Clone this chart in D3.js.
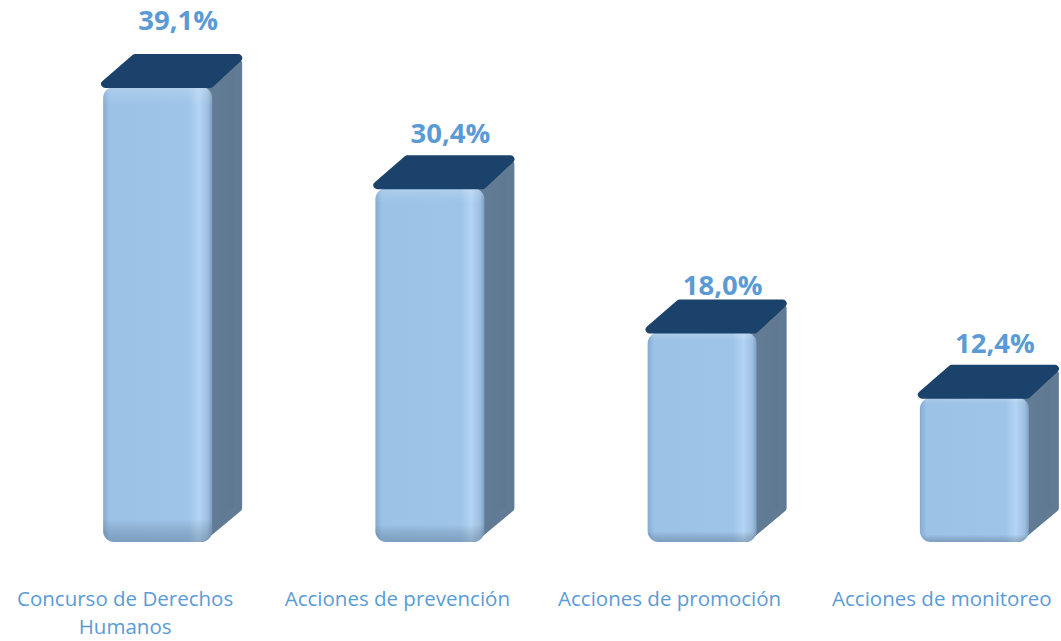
<!DOCTYPE html>
<html>
<head>
<meta charset="utf-8">
<script src="https://d3js.org/d3.v7.min.js"></script>
<style>
  body { margin: 0; background: #fff; }
  svg { display: block; }
</style>
</head>
<body>
<script>
// data
var categories = ["Concurso de Derechos Humanos", "Acciones de prevención", "Acciones de promoción", "Acciones de monitoreo"]
var values = [39.1, 30.4, 18.0, 12.4]
var valueLabels = ["39,1%", "30,4%", "18,0%", "12,4%"]

var width = 1061, height = 641
var baseY = 542
var depthX = 30, depthY = 28
var faceW = 109

var svg = d3.select("body").append("svg")
  .attr("width", width).attr("height", height)

var x = d3.scaleBand().domain(categories).range([-11, 1078]).padding(0)
var y = d3.scaleLinear().domain([0, 39.1]).range([baseY, 87])

var defs = svg.append("defs")
var front = defs.append("linearGradient").attr("id", "front").attr("x1", 0).attr("x2", 1).attr("y1", 0).attr("y2", 0)
front.append("stop").attr("offset", "0%").attr("stop-color", "#86abd3")
front.append("stop").attr("offset", "6%").attr("stop-color", "#9cc2e6")
front.append("stop").attr("offset", "78%").attr("stop-color", "#9ec4e8")
front.append("stop").attr("offset", "88%").attr("stop-color", "#b3d4f3")
front.append("stop").attr("offset", "96%").attr("stop-color", "#9dbfe0")
front.append("stop").attr("offset", "100%").attr("stop-color", "#7f9fc1")

var shade = defs.append("linearGradient").attr("id", "shade").attr("x1", 0).attr("x2", 0).attr("y1", 0).attr("y2", 1)
shade.append("stop").attr("offset", "0%").attr("stop-color", "#ffffff").attr("stop-opacity", 0.18)
shade.append("stop").attr("offset", "4%").attr("stop-color", "#ffffff").attr("stop-opacity", 0)
shade.append("stop").attr("offset", "95%").attr("stop-color", "#000000").attr("stop-opacity", 0)
shade.append("stop").attr("offset", "100%").attr("stop-color", "#1b3550").attr("stop-opacity", 0.25)

var side = defs.append("linearGradient").attr("id", "side").attr("x1", 0).attr("x2", 1).attr("y1", 0).attr("y2", 0)
side.append("stop").attr("offset", "0%").attr("stop-color", "#6f89a5")
side.append("stop").attr("offset", "30%").attr("stop-color", "#637c96")
side.append("stop").attr("offset", "100%").attr("stop-color", "#5f7791")

var labelOffset = [0, 45, 38, 45]

var bars = svg.selectAll("g.bar").data(categories).enter().append("g").attr("class", "bar")

bars.each(function(c, i) {
  var g = d3.select(this)
  var cx = x(c) + x.bandwidth() / 2
  var x0 = cx - 22, x1 = x0 + faceW
  var top = y(values[i])

  // side face
  g.append("polygon")
    .attr("points", [[x1 - 6, top + 2], [x1 + depthX - 4, top - depthY + 4], [x1 + depthX - 4, baseY - depthY - 6], [x1 - 10, baseY - 4]].join(" "))
    .attr("fill", "url(#side)")
    .attr("stroke", "#627b95").attr("stroke-width", 8).attr("stroke-linejoin", "round")

  // front face
  g.append("rect")
    .attr("x", x0).attr("y", top).attr("width", faceW).attr("height", baseY - top)
    .attr("rx", 11).attr("fill", "url(#front)")
  g.append("rect")
    .attr("x", x0).attr("y", top).attr("width", faceW).attr("height", baseY - top)
    .attr("rx", 11).attr("fill", "url(#shade)")

  // top face
  g.append("polygon")
    .attr("points", [[x0 + 2, top - 3], [x1 - 2, top - 3], [x1 + depthX - 4, top - depthY - 1], [x0 + depthX + 2, top - depthY - 1]].join(" "))
    .attr("fill", "#1b426a")
    .attr("stroke", "#1b426a").attr("stroke-width", 8).attr("stroke-linejoin", "round")

  // value label
  var ly = i == 0 ? 30 : top - labelOffset[i]
  g.append("text")
    .attr("x", cx + 53).attr("y", ly)
    .attr("text-anchor", "middle")
    .attr("font-family", "'Open Sans', 'Noto Sans', sans-serif")
    .attr("font-weight", "bold").attr("font-size", 27.5)
    .attr("fill", "#5b9bd5")
    .text(valueLabels[i])
})

// category labels
var wraps = { "Concurso de Derechos Humanos": ["Concurso de Derechos", "Humanos"] }
svg.selectAll("text.cat").data(categories).enter().append("text")
  .attr("class", "cat")
  .attr("text-anchor", "middle")
  .attr("font-family", "'Open Sans', 'Noto Sans', sans-serif")
  .attr("font-size", 20.5)
  .attr("fill", "#5b9bd5")
  .each(function(c) {
    var lines = wraps[c] || [c]
    var t = d3.select(this)
    lines.forEach(function(l, k) {
      t.append("tspan").attr("x", x(c) + x.bandwidth() / 2).attr("y", 606 + k * 28).text(l)
    })
  })
</script>
</body>
</html>
